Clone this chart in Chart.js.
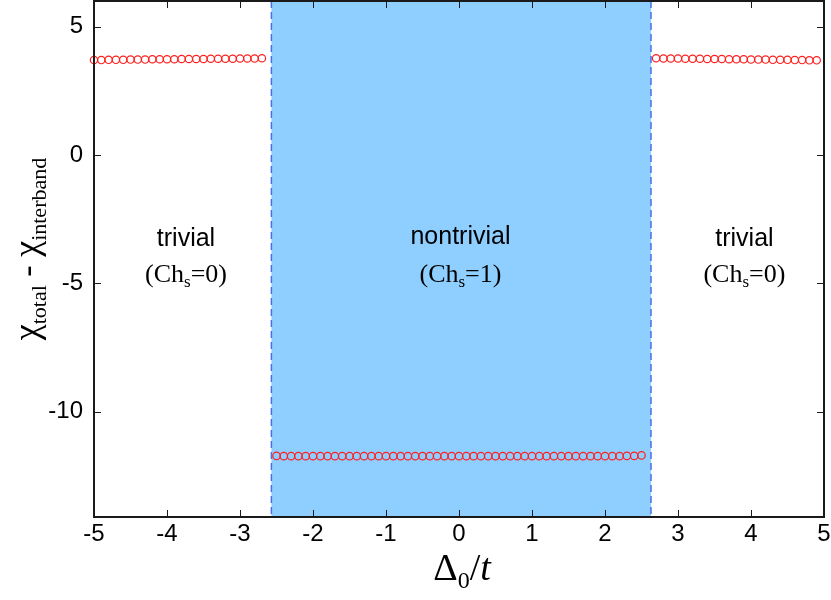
<!DOCTYPE html>
<html>
<head>
<meta charset="utf-8">
<script src="https://cdn.jsdelivr.net/npm/chart.js@4/dist/chart.umd.min.js"></script>
<style>
  html, body { margin: 0; padding: 0; background: #fff; }
  canvas { display: block; }
</style>
</head>
<body>
<canvas id="chart" width="831" height="600"></canvas>
<script>
  // x values (Delta_0 / t) and chi values
  const xTrivialLeft = [-5.0, -4.9, -4.8, -4.7, -4.6, -4.5, -4.4, -4.3, -4.2, -4.1, -4.0, -3.9,
    -3.8, -3.7, -3.6, -3.5, -3.4, -3.3, -3.2, -3.1, -3.0, -2.9, -2.8, -2.7];
  const yTrivialLeft = [3.70, 3.70, 3.71, 3.71, 3.71, 3.72, 3.72, 3.72, 3.73, 3.73, 3.73, 3.73,
    3.74, 3.74, 3.74, 3.74, 3.75, 3.75, 3.75, 3.75, 3.76, 3.76, 3.76, 3.77];

  const xNontrivial = [-2.5, -2.4, -2.3, -2.2, -2.1, -2.0, -1.9, -1.8, -1.7, -1.6, -1.5, -1.4, -1.3,
    -1.2, -1.1, -1.0, -0.9, -0.8, -0.7, -0.6, -0.5, -0.4, -0.3, -0.2, -0.1, 0.0, 0.1, 0.2, 0.3,
    0.4, 0.5, 0.6, 0.7, 0.8, 0.9, 1.0, 1.1, 1.2, 1.3, 1.4, 1.5, 1.6, 1.7, 1.8, 1.9, 2.0, 2.1,
    2.2, 2.3, 2.4, 2.5];
  const yNontrivial = [-11.72, -11.73, -11.73, -11.73, -11.73, -11.73, -11.73, -11.73, -11.73,
    -11.73, -11.73, -11.73, -11.73, -11.73, -11.73, -11.73, -11.73, -11.73, -11.73, -11.73,
    -11.73, -11.73, -11.73, -11.73, -11.73, -11.73, -11.73, -11.73, -11.73, -11.73, -11.73,
    -11.73, -11.73, -11.73, -11.73, -11.73, -11.73, -11.73, -11.73, -11.73, -11.73, -11.73,
    -11.73, -11.73, -11.73, -11.73, -11.73, -11.73, -11.72, -11.72, -11.70];

  const xTrivialRight = [2.7, 2.8, 2.9, 3.0, 3.1, 3.2, 3.3, 3.4, 3.5, 3.6, 3.7, 3.8, 3.9, 4.0,
    4.1, 4.2, 4.3, 4.4, 4.5, 4.6, 4.7, 4.8, 4.9];
  const yTrivialRight = [3.77, 3.76, 3.76, 3.76, 3.75, 3.75, 3.75, 3.74, 3.74, 3.74, 3.73, 3.73,
    3.73, 3.72, 3.72, 3.72, 3.71, 3.71, 3.71, 3.70, 3.70, 3.69, 3.69];

  // phase boundaries (shaded nontrivial region)
  const phaseBounds = [-2.57, 2.63];

  const xTicks = [-5, -4, -3, -2, -1, 0, 1, 2, 3, 4, 5];
  const yTicks = [-10, -5, 0, 5];

  const regionNames = ["trivial", "nontrivial", "trivial"];
  const regionChern = ["0", "1", "0"];
  const regionCenters = [-3.74, 0.02, 3.91];

  const toPoints = (xs, ys) => xs.map((x, i) => ({ x: x, y: ys[i] }));

  const SERIF = "'Liberation Serif', 'Times New Roman', serif";
  const SANS = "'Liberation Sans', Arial, sans-serif";

  // draw a run of text pieces (with subscripts) centred on cx
  function drawRich(ctx, parts, cx, baseline) {
    let total = 0;
    parts.forEach((p) => {
      ctx.font = p.font;
      p.w = ctx.measureText(p.t).width;
      total += p.w;
    });
    let x = cx - total / 2;
    ctx.textAlign = "left";
    ctx.textBaseline = "alphabetic";
    parts.forEach((p) => {
      ctx.font = p.font;
      ctx.fillText(p.t, x, baseline + (p.dy || 0));
      x += p.w;
    });
  }

  const bandPlugin = {
    id: "band",
    beforeDatasetsDraw(chart) {
      const { ctx, chartArea, scales } = chart;
      const x0 = scales.x.getPixelForValue(phaseBounds[0]);
      const x1 = scales.x.getPixelForValue(phaseBounds[1]);
      ctx.save();
      ctx.fillStyle = "rgb(143, 207, 255)";
      ctx.fillRect(x0, chartArea.top, x1 - x0, chartArea.bottom - chartArea.top);
      ctx.strokeStyle = "rgb(72, 112, 232)";
      ctx.lineWidth = 1.5;
      ctx.setLineDash([7, 4]);
      [x0, x1].forEach((px) => {
        ctx.beginPath();
        ctx.moveTo(px, chartArea.top);
        ctx.lineTo(px, chartArea.bottom);
        ctx.stroke();
      });
      ctx.restore();

      // region labels
      ctx.save();
      ctx.fillStyle = "#000";
      regionNames.forEach((name, i) => {
        const cx = scales.x.getPixelForValue(regionCenters[i]);
        const nameBase = scales.y.getPixelForValue(i === 1 ? -3.45 : -3.55);
        const chBase = scales.y.getPixelForValue(-4.95);
        drawRich(ctx, [{ t: name, font: "25px " + SANS }], cx, nameBase);
        drawRich(ctx, [
          { t: "(Ch", font: "26px " + SERIF },
          { t: "s", font: "17px " + SERIF, dy: 5 },
          { t: "=" + regionChern[i] + ")", font: "26px " + SERIF },
        ], cx, chBase);
      });
      ctx.restore();
    },
    afterDraw(chart) {
      const { ctx, chartArea, scales } = chart;
      const { left, right, top, bottom } = chartArea;
      ctx.save();
      ctx.strokeStyle = "#1a1a1a";
      ctx.lineWidth = 1;
      const tl = 7;
      xTicks.forEach((v) => {
        const px = Math.round(scales.x.getPixelForValue(v)) + 0.5;
        ctx.beginPath();
        ctx.moveTo(px, bottom);
        ctx.lineTo(px, bottom - tl);
        ctx.moveTo(px, top);
        ctx.lineTo(px, top + tl);
        ctx.stroke();
      });
      yTicks.forEach((v) => {
        const py = Math.round(scales.y.getPixelForValue(v)) + 0.5;
        ctx.beginPath();
        ctx.moveTo(left, py);
        ctx.lineTo(left + tl, py);
        ctx.moveTo(right, py);
        ctx.lineTo(right - tl, py);
        ctx.stroke();
      });
      ctx.lineWidth = 2;
      ctx.strokeRect(left, top, right - left, bottom - top);
      ctx.restore();

      // axis titles
      ctx.save();
      ctx.fillStyle = "#000";
      drawRich(ctx, [
        { t: "\u0394", font: "38px " + SERIF },
        { t: "0", font: "24px " + SERIF, dy: 8 },
        { t: "/", font: "38px " + SERIF },
        { t: "t", font: "italic 38px " + SERIF },
      ], (left + right) / 2 + 3, 580);

      ctx.translate(38, (top + bottom) / 2 - 10);
      ctx.rotate(-Math.PI / 2);
      drawRich(ctx, [
        { t: "\u03c7", font: "36px " + SERIF },
        { t: "total", font: "22px " + SERIF, dy: 8 },
        { t: " - ", font: "34px " + SERIF },
        { t: "\u03c7", font: "36px " + SERIF },
        { t: "interband", font: "22px " + SERIF, dy: 8 },
      ], 0, 0);
      ctx.restore();
    },
  };

  const pointStyle = {
    showLine: false,
    pointStyle: "circle",
    pointRadius: 3.7,
    pointBorderWidth: 1.2,
    pointBorderColor: "rgb(255, 30, 30)",
    pointBackgroundColor: "rgba(0,0,0,0)",
    clip: false,
  };

  new Chart(document.getElementById("chart"), {
    type: "scatter",
    data: {
      datasets: [
        Object.assign({ label: "trivial left", data: toPoints(xTrivialLeft, yTrivialLeft) }, pointStyle),
        Object.assign({ label: "nontrivial", data: toPoints(xNontrivial, yNontrivial) }, pointStyle),
        Object.assign({ label: "trivial right", data: toPoints(xTrivialRight, yTrivialRight) }, pointStyle),
      ],
    },
    options: {
      responsive: false,
      animation: false,
      devicePixelRatio: 1,
      layout: { autoPadding: false, padding: { left: 34, right: 7, top: 1, bottom: 0 } },
      plugins: {
        legend: { display: false },
        tooltip: { enabled: false },
      },
      scales: {
        x: {
          type: "linear",
          min: -5,
          max: 5,
          grid: { display: false, drawTicks: false },
          border: { display: false },
          afterBuildTicks: (s) => { s.ticks = xTicks.map((v) => ({ value: v })); },
          afterFit: (s) => { s.height = 83; s.paddingLeft = 0; s.paddingRight = 0; },
          ticks: {
            color: "#000",
            padding: 3,
            maxRotation: 0,
            font: { family: SANS, size: 24 },
          },
        },
        y: {
          type: "linear",
          min: -14.1,
          max: 6.0,
          grid: { display: false, drawTicks: false },
          border: { display: false },
          afterBuildTicks: (s) => { s.ticks = yTicks.map((v) => ({ value: v })); },
          afterFit: (s) => { s.width = 60; s.paddingTop = 0; s.paddingBottom = 0; },
          ticks: {
            color: "#000",
            padding: 11,
            font: { family: SANS, size: 24 },
          },
        },
      },
    },
    plugins: [bandPlugin],
  });
</script>
</body>
</html>
